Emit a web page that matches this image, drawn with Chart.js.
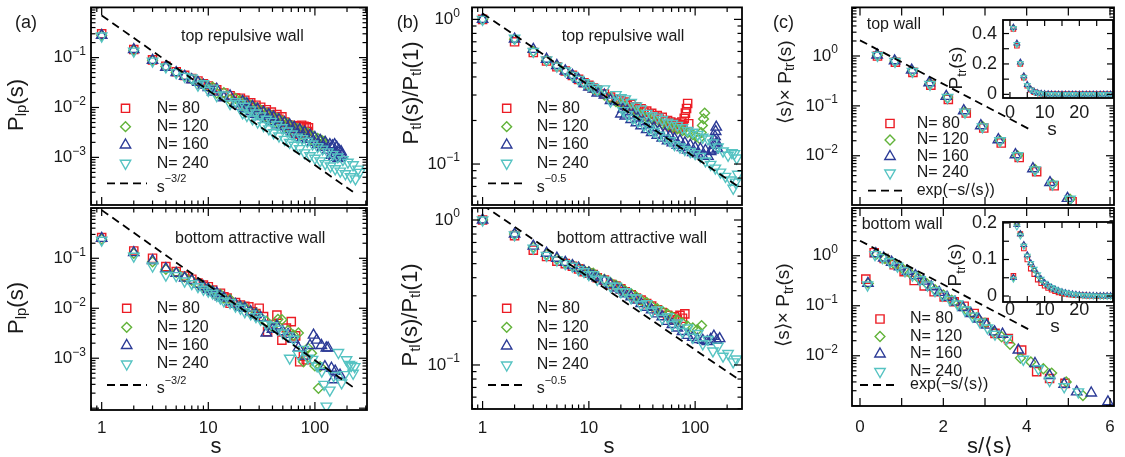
<!DOCTYPE html>
<html>
<head>
<meta charset="utf-8">
<title>Wall statistics</title>
<script src="https://cdn.jsdelivr.net/npm/chart.js@4.4.1/dist/chart.umd.min.js"></script>
<style>
  body { margin: 0; background: #fff; }
  #fig { position: relative; width: 1125px; height: 457px; }
  #fig canvas { position: absolute; left: 0; top: 0; }
</style>
</head>
<body>
<div id="fig">
  <canvas id="aTop" width="1125" height="457"></canvas>
  <canvas id="aBot" width="1125" height="457"></canvas>
  <canvas id="bTop" width="1125" height="457"></canvas>
  <canvas id="bBot" width="1125" height="457"></canvas>
  <canvas id="cTop" width="1125" height="457"></canvas>
  <canvas id="cBot" width="1125" height="457"></canvas>
  <canvas id="insTop" width="1125" height="457"></canvas>
  <canvas id="insBot" width="1125" height="457"></canvas>
</div>
<script>
// ---------- data ----------

// series labels
const seriesLabels = ["N= 80", "N= 120", "N= 160", "N= 240"];

// (a) top repulsive wall: P_lp(s)
const aT_s80 = [1,2,3,4,5,6,7,8,9,10,11,12,14,16,18,20,21,22,23,25,26,28,29,31,33,35,37,39,41,44,46,49,52,55,57,59,61,63,65,67,69,71,73,75,77,79,81,83,85,87];
const aT_p80 = [0.30,0.145,0.090,0.067,0.052,0.044,0.038,0.034,0.030,0.027,0.0246,0.0226,0.0195,0.0172,0.0154,0.0153,0.0121,0.014,0.0111,0.0124,0.0099,0.0111,0.0089,0.0101,0.0079,0.009,0.0071,0.0081,0.0064,0.0072,0.0058,0.0065,0.0051,0.0045,0.0038,0.0044,0.0034,0.0042,0.0031,0.0043,0.0029,0.0041,0.0030,0.0044,0.0031,0.0042,0.0029,0.0041,0.0033,0.0039];
const aT_s120 = [1,2,3,4,5,6,7,8,9,10,11,12,14,16,18,20,21,22,23,25,26,28,29,31,33,35,37,39,41,44,46,49,52,55,58,61,64,68,72,76,80,85,90,95,100,106,112,116,119,122];
const aT_p120 = [0.28,0.14,0.088,0.066,0.051,0.043,0.037,0.033,0.029,0.026,0.0255,0.0194,0.0198,0.0143,0.0152,0.0139,0.0105,0.0126,0.0095,0.011,0.0084,0.0098,0.0075,0.0088,0.0065,0.0077,0.0058,0.0069,0.0052,0.0061,0.0046,0.0054,0.0041,0.0048,0.0036,0.0043,0.0033,0.0038,0.0029,0.0034,0.0026,0.0031,0.0023,0.0027,0.0020,0.0024,0.0018,0.0022,0.0019,0.0021];
const aT_s160 = [1,2,3,4,5,6,7,8,9,10,11,12,14,16,18,20,21,22,23,25,26,28,29,31,33,35,37,39,41,44,46,49,52,55,58,61,64,68,72,76,80,85,90,95,100,106,112,118,125,132,138,142,146,150,153,156,160,164,168,172,176,180];
const aT_p160 = [0.28,0.145,0.088,0.064,0.050,0.042,0.036,0.032,0.028,0.025,0.0203,0.0232,0.0157,0.0171,0.0120,0.0105,0.0132,0.0095,0.0119,0.0083,0.0105,0.0073,0.0093,0.0066,0.0081,0.0058,0.0072,0.0052,0.0065,0.0045,0.0057,0.0041,0.005,0.0036,0.0045,0.0032,0.004,0.0029,0.0036,0.0025,0.0032,0.0023,0.0028,0.002,0.0025,0.0018,0.0022,0.0016,0.002,0.0014,0.0018,0.0011,0.0017,0.0010,0.0018,0.0012,0.0016,0.00095,0.0014,0.0010,0.0013,0.0011];
const aT_s240 = [1,2,3,4,5,6,7,8,9,10,11,12,14,16,18,20,21,22,23,25,26,28,29,31,33,35,37,39,41,44,46,49,52,55,58,61,64,68,72,76,80,85,90,95,100,106,112,118,125,132,140,147,155,164,173,183,193,204,216,228,240,254,262];
const aT_p240 = [0.27,0.135,0.085,0.065,0.050,0.042,0.039,0.028,0.030,0.022,0.0244,0.0173,0.0178,0.0119,0.0131,0.0120,0.00778,0.0106,0.0069,0.00897,0.00589,0.00774,0.00512,0.00679,0.00433,0.00579,0.00373,0.00527,0.00311,0.00451,0.00268,0.00392,0.00229,0.00337,0.00199,0.00294,0.00175,0.00255,0.0015,0.00237,0.00123,0.0021,0.00108,0.00185,0.00096,0.00164,0.00085,0.00146,0.00075,0.00129,0.00067,0.00115,0.00059,0.00102,0.00053,0.0009,0.00047,0.0008,0.00041,0.00071,0.00037,0.00058,0.00050];
const aT_fitS = [1, 230];
const aT_fitP = [0.70, 0.00020];

// (a) bottom attractive wall: P_lp(s)
const aB_s80 = [1,2,3,4,5,6,7,8,9,10,11,12,13,14,15,16,18,20,22,24,26,28,30,33,36,40,44,49,54,60,66,72,78,83];
const aB_p80 = [0.26,0.14,0.10,0.068,0.054,0.044,0.038,0.032,0.029,0.027,0.023,0.019,0.020,0.017,0.016,0.0126,0.013,0.0116,0.011,0.0107,0.0085,0.0078,0.010,0.0068,0.0034,0.0047,0.0073,0.0023,0.0040,0.0054,0.0028,0.00085,0.0011,0.00093];
const aB_s120 = [1,2,3,4,5,6,7,8,9,10,11,12,13,14,16,18,20,22,25,28,31,35,40,45,49,56,63,70,78,86,93,100,108,112];
const aB_p120 = [0.24,0.125,0.085,0.060,0.052,0.042,0.036,0.031,0.027,0.025,0.022,0.018,0.019,0.016,0.015,0.012,0.011,0.0105,0.0085,0.008,0.0065,0.0055,0.0042,0.0060,0.0059,0.0036,0.0029,0.0032,0.00085,0.0016,0.00126,0.0007,0.00025,0.00068];
const aB_s160 = [1,2,3,4,5,6,7,8,9,10,11,12,13,14,16,18,20,22,25,28,31,35,40,44,50,56,63,70,80,90,97,104,115,124,128,133,143,148,155,172];
const aB_p160 = [0.25,0.13,0.09,0.062,0.050,0.040,0.036,0.030,0.027,0.024,0.021,0.020,0.017,0.016,0.0135,0.012,0.0105,0.010,0.0085,0.0075,0.0065,0.0032,0.0038,0.0044,0.0034,0.0030,0.0024,0.0016,0.0011,0.0018,0.0029,0.0023,0.0018,0.00068,0.0016,0.0016,0.00063,0.00037,0.00055,0.00046];
const aB_s240 = [1,2,3,4,5,6,7,8,9,10,11,12,13,14,16,18,20,22,25,28,31,35,40,45,50,56,58,63,70,78,86,95,105,116,122,128,138,150,166,178,190,198,210,220,228,236];
const aB_p240 = [0.23,0.11,0.07,0.046,0.045,0.035,0.031,0.027,0.024,0.022,0.020,0.018,0.016,0.014,0.013,0.011,0.010,0.0085,0.0077,0.0068,0.0060,0.0048,0.0045,0.0038,0.0032,0.0028,0.0010,0.0024,0.0012,0.0015,0.0010,0.00095,0.0007,0.00055,0.0003,0.00011,0.00023,0.00045,0.0013,0.00032,0.00047,0.00093,0.00075,0.00072,0.0005,0.00068];
const aB_fitS = [1, 230];
const aB_fitP = [0.92, 0.00026];

// (b) top repulsive wall: P_tl(s)/P_tl(1)
const bT_s80 = [1,2,3,4,5,6,7,8,9,10,11,12,14,16,18,20,21,22,23,25,26,28,29,31,33,35,37,39,41,44,46,49,52,55,57,59,61,63,65,67,69,71,73,75,77,79,81,83,85,87];
const bT_p80 = [1.0,0.70,0.59,0.515,0.47,0.44,0.41,0.385,0.365,0.35,0.335,0.325,0.305,0.29,0.28,0.275,0.262,0.268,0.253,0.258,0.245,0.249,0.237,0.241,0.228,0.232,0.22,0.224,0.212,0.216,0.205,0.21,0.198,0.2,0.185,0.195,0.18,0.192,0.178,0.19,0.176,0.188,0.18,0.195,0.185,0.207,0.225,0.242,0.262,0.19];
const bT_s120 = [1,2,3,4,5,6,7,8,9,10,11,12,14,16,18,20,22,25,28,31,35,39,44,49,55,61,68,76,85,95,102,110,114,117,120,123];
const bT_p120 = [1.0,0.73,0.60,0.52,0.475,0.44,0.41,0.385,0.365,0.345,0.33,0.32,0.30,0.285,0.27,0.26,0.25,0.24,0.23,0.22,0.21,0.205,0.195,0.19,0.185,0.18,0.175,0.17,0.165,0.16,0.155,0.15,0.165,0.185,0.205,0.225];
const bT_s160 = [1,2,3,4,5,6,7,8,9,10,11,12,14,16,18,20,21,22,23,25,26,28,29,31,33,35,37,39,41,44,46,49,52,55,58,61,64,68,72,76,80,85,90,95,100,106,112,118,125,132,140,147,150,152,154,156,158,160,162];
const bT_p160 = [1.0,0.73,0.62,0.53,0.48,0.44,0.41,0.385,0.36,0.34,0.33,0.31,0.30,0.275,0.27,0.222,0.24,0.215,0.23,0.203,0.218,0.193,0.208,0.184,0.197,0.173,0.187,0.165,0.178,0.158,0.17,0.151,0.163,0.145,0.156,0.14,0.15,0.135,0.145,0.13,0.14,0.125,0.135,0.12,0.13,0.117,0.127,0.114,0.124,0.113,0.122,0.125,0.135,0.145,0.155,0.168,0.18,0.14,0.128];
const bT_s240 = [1,2,3,4,5,6,7,8,9,10,11,12,14,16,18,20,21,22,23,25,26,28,29,31,33,35,37,39,41,44,46,49,52,55,58,61,64,68,72,76,80,85,90,95,100,106,112,118,125,132,140,147,155,164,173,183,193,204,216,222,228,234,240,246,252];
const bT_p240 = [1.0,0.74,0.60,0.525,0.475,0.44,0.41,0.385,0.365,0.35,0.339,0.327,0.331,0.272,0.302,0.288,0.234,0.282,0.219,0.266,0.207,0.252,0.197,0.24,0.185,0.224,0.175,0.216,0.168,0.211,0.158,0.203,0.151,0.195,0.145,0.191,0.136,0.185,0.131,0.178,0.126,0.171,0.122,0.166,0.118,0.16,0.113,0.153,0.105,0.149,0.0995,0.14,0.0937,0.131,0.0879,0.123,0.0822,0.115,0.0776,0.12,0.068,0.118,0.075,0.11,0.085];
const bT_fitS = [1, 253];
const bT_fitP = [1.10, 0.070];

// (b) bottom attractive wall: P_tl(s)/P_tl(1)
const bB_s80 = [1,2,3,4,5,6,7,8,9,10,11,12,14,16,18,20,22,25,28,31,35,39,44,49,55,60,64,68,72,76,80];
const bB_p80 = [1.0,0.78,0.62,0.56,0.52,0.50,0.48,0.46,0.44,0.43,0.42,0.40,0.385,0.36,0.35,0.335,0.32,0.305,0.29,0.28,0.265,0.255,0.24,0.23,0.22,0.205,0.215,0.205,0.22,0.21,0.225];
const bB_s120 = [1,2,3,4,5,6,7,8,9,10,11,12,14,16,18,20,22,25,28,31,35,39,44,49,55,61,68,76,85,95,105,115];
const bB_p120 = [1.0,0.80,0.65,0.58,0.54,0.51,0.49,0.47,0.45,0.44,0.43,0.41,0.39,0.37,0.355,0.34,0.325,0.31,0.295,0.28,0.27,0.255,0.245,0.235,0.225,0.215,0.205,0.195,0.185,0.18,0.175,0.187];
const bB_s160 = [1,2,3,4,5,6,7,8,9,10,11,12,14,16,18,20,22,25,28,31,35,39,44,49,55,61,68,76,85,95,105,118,130,140,150,160,170];
const bB_p160 = [1.0,0.80,0.66,0.59,0.545,0.51,0.485,0.465,0.445,0.43,0.41,0.40,0.38,0.36,0.34,0.33,0.31,0.295,0.28,0.265,0.25,0.24,0.225,0.215,0.20,0.19,0.18,0.17,0.16,0.155,0.15,0.148,0.145,0.15,0.158,0.148,0.152];
const bB_s240 = [1,2,3,4,5,6,7,8,9,10,11,12,14,16,18,20,22,25,28,31,35,39,44,49,55,61,68,76,85,95,106,118,132,147,164,183,204,228,244];
const bB_p240 = [1.0,0.79,0.64,0.57,0.53,0.50,0.48,0.455,0.44,0.42,0.42,0.39,0.385,0.35,0.35,0.32,0.32,0.29,0.29,0.26,0.265,0.235,0.24,0.21,0.215,0.19,0.195,0.17,0.18,0.155,0.165,0.14,0.15,0.125,0.135,0.115,0.12,0.105,0.11];
const bB_fitS = [1, 253];
const bB_fitP = [1.27, 0.080];

// (c) top wall: <s> x P_tr(s) against s/<s>
const cT_x80 = [0.42,0.85,1.27,1.70,2.12,2.55,2.97,3.39,3.82,4.24,4.66,5.09];
const cT_p80 = [1.0,0.75,0.47,0.26,0.135,0.072,0.036,0.018,0.0092,0.0048,0.0025,0.0012];
const cT_x120 = [0.42,0.84,1.26,1.68,2.10,2.52,2.94,3.36,3.78,4.20,4.62,5.04];
const cT_p120 = [1.03,0.79,0.50,0.28,0.145,0.076,0.039,0.020,0.010,0.0053,0.0027,0.00135];
const cT_x160 = [0.41,0.83,1.24,1.66,2.07,2.49,2.90,3.32,3.73,4.15,4.56,4.98];
const cT_p160 = [1.05,0.80,0.52,0.29,0.155,0.080,0.040,0.021,0.0105,0.0055,0.0029,0.0014];
const cT_x240 = [0.42,0.84,1.26,1.68,2.10,2.52,2.94,3.36,3.78,4.20,4.62,5.04];
const cT_p240 = [1.03,0.78,0.49,0.27,0.147,0.075,0.038,0.020,0.010,0.0052,0.0027,0.00134];
const cT_fitX = [0, 4.04];
const cT_fitP = [2.06, 0.035];

// (c) bottom wall
const cB_x80 = [0.14,0.34,0.58,0.82,1.06,1.30,1.54,1.78,2.02,2.26,2.50,2.74,2.98,3.24,3.56,3.88,4.24,4.55,4.92];
const cB_p80 = [0.34,1.15,0.88,0.66,0.48,0.32,0.25,0.19,0.15,0.12,0.098,0.07,0.046,0.028,0.022,0.013,0.0048,0.0035,0.0028];
const cB_x120 = [0.20,0.40,0.60,0.80,1.00,1.20,1.40,1.60,1.80,2.00,2.20,2.40,2.60,2.80,3.00,3.20,3.40,3.60,3.85,4.10,4.40,4.60,4.95,5.35];
const cB_p120 = [0.28,1.08,0.88,0.71,0.57,0.45,0.36,0.28,0.21,0.165,0.13,0.10,0.076,0.058,0.045,0.030,0.024,0.017,0.009,0.0075,0.0055,0.0045,0.0030,0.0016];
const cB_x160 = [0.19,0.38,0.57,0.76,0.95,1.14,1.33,1.52,1.71,1.90,2.09,2.28,2.47,2.66,2.85,3.04,3.23,3.42,3.80,4.20,4.55,4.90,5.20,5.55,5.95];
const cB_p160 = [0.28,1.1,0.9,0.74,0.6,0.49,0.40,0.31,0.24,0.185,0.148,0.118,0.092,0.07,0.054,0.041,0.03,0.027,0.013,0.0070,0.0040,0.0027,0.0019,0.0018,0.0012];
const cB_x240 = [0.18,0.36,0.54,0.72,0.90,1.08,1.26,1.44,1.62,1.80,1.98,2.16,2.34,2.52,2.70,2.88,3.06,3.24,3.52,3.92,4.28,4.55,4.90,5.24];
const cB_p240 = [0.26,1.05,0.92,0.76,0.62,0.50,0.41,0.33,0.26,0.20,0.163,0.133,0.108,0.082,0.062,0.047,0.036,0.027,0.022,0.0085,0.0055,0.0032,0.0024,0.0019];
const cB_fitX = [0, 4.04];
const cB_fitP = [2.0, 0.034];

// insets: P_tr(s) against s
const insS = [1,2,3,4,5,6,7,8,9,10,11,12,13,14,15,16,17,18,19,20,21,22,23,24,25,26,27,28,29];
const iT_p80 = [0.43,0.32,0.20,0.11,0.057,0.030,0.015,0.0076,0.0039,0.0020,0.0010,0.0005,0,0,0,0,0,0,0,0,0,0,0,0,0,0,0,0,0];
const iT_p120 = [0.44,0.33,0.205,0.115,0.060,0.032,0.016,0.008,0.004,0.002,0.001,0.0005,0,0,0,0,0,0,0,0,0,0,0,0,0,0,0,0,0];
const iT_p160 = [0.44,0.335,0.21,0.12,0.063,0.033,0.017,0.009,0.0045,0.0023,0.0012,0.0006,0,0,0,0,0,0,0,0,0,0,0,0,0,0,0,0,0];
const iT_p240 = [0.435,0.33,0.205,0.112,0.060,0.031,0.016,0.0085,0.0042,0.0022,0.0011,0.0006,0,0,0,0,0,0,0,0,0,0,0,0,0,0,0,0,0];
const iB_p80 = [0.055,0.20,0.17,0.13,0.10,0.075,0.060,0.045,0.035,0.028,0.022,0.017,0.013,0.010,0.008,0.006,0.0045,0.0035,0.0025,0.002,0.0015,0.001,0.0008,0.0006,0.0004,0.0003,0.0002,0.0001,0];
const iB_p120 = [0.050,0.20,0.17,0.14,0.11,0.088,0.071,0.056,0.044,0.035,0.027,0.021,0.017,0.013,0.010,0.008,0.006,0.0045,0.0035,0.0025,0.0018,0.0013,0.001,0.0007,0.0005,0.0003,0.0002,0.0001,0];
const iB_p160 = [0.050,0.195,0.17,0.14,0.112,0.090,0.073,0.058,0.046,0.036,0.029,0.023,0.018,0.014,0.011,0.0085,0.0065,0.005,0.0038,0.0028,0.002,0.0015,0.0011,0.0008,0.0006,0.0004,0.0003,0.0002,0.0001];
const iB_p240 = [0.047,0.19,0.165,0.137,0.11,0.09,0.074,0.059,0.047,0.036,0.029,0.024,0.019,0.015,0.012,0.009,0.0074,0.0056,0.0042,0.003,0.002,0.0015,0.001,0.0007,0.0004,0.0003,0.0002,0.0001,0];

// tick labels
const logXTickLabels = [1, 10, 100];
const aYTickExp = [-1, -2, -3];
const bYTickExp = [0, -1];
const cYTickExp = [0, -1, -2];
const cXTickLabels = [0, 2, 4, 6];
const insXTickLabels = [0, 10, 20];
const insTopYTickLabels = [0, 0.2, 0.4];
const insBotYTickLabels = [0, 0.1, 0.2];

// ---------- styling ----------
const W = 1125, H = 457;
const FONT = '"Liberation Sans", Arial, Helvetica, sans-serif';
const INK = "#1a1a1a";
const colors = ["#ec1c24", "#62b33a", "#2b3a96", "#55c3c2"];
const marks = [
    { style: "rect", rot: 0, r: 5.8, order: 4 },
    { style: "rectRot", rot: 0, r: 4.9, order: 3 },
    { style: "triangle", rot: 0, r: 6, order: 2 },
    { style: "triangle", rot: 180, r: 6, order: 1 },
];

const deco = {}; // per-canvas decorations (frame, ticks, texts, legend)

function drawParts(ctx, parts, x, y, align, rot) {
    ctx.save();
    ctx.translate(x, y);
    if (rot) ctx.rotate(-Math.PI / 2);
    ctx.textBaseline = "middle";
    ctx.textAlign = "left";
    let w = 0;
    parts.forEach((p) => {
        ctx.font = p[1] + "px " + FONT;
        w += ctx.measureText(p[0]).width;
    });
    let cx = align === "center" ? -w / 2 : align === "right" ? -w : 0;
    parts.forEach((p) => {
        ctx.font = p[1] + "px " + FONT;
        ctx.fillText(p[0], cx, p[2] || 0);
        cx += ctx.measureText(p[0]).width;
    });
    ctx.restore();
}

function seg(ctx, x1, y1, x2, y2) {
    ctx.beginPath();
    ctx.moveTo(x1, y1);
    ctx.lineTo(x2, y2);
    ctx.stroke();
}

// log axis tick marks: 1..9 x 10^k inside the range
function logTickList(min, max) {
    const out = [];
    for (let e = Math.floor(Math.log10(min)); e <= Math.ceil(Math.log10(max)); e++) {
        for (let k = 1; k < 10; k++) {
            const v = k * Math.pow(10, e);
            if (v >= min * 0.9999 && v <= max * 1.0001) out.push([v, k === 1]);
        }
    }
    return out;
}

function drawMarker(ctx, i, x, y, r) {
    const m = marks[i];
    ctx.beginPath();
    if (m.style === "rect") {
        const h = r * Math.SQRT1_2;
        ctx.rect(x - h, y - h, 2 * h, 2 * h);
    } else if (m.style === "rectRot") {
        ctx.moveTo(x - r, y);
        ctx.lineTo(x, y - r);
        ctx.lineTo(x + r, y);
        ctx.lineTo(x, y + r);
        ctx.closePath();
    } else {
        let a = (m.rot * Math.PI) / 180;
        for (let k = 0; k < 3; k++) {
            const px = x + Math.sin(a) * r, py = y - Math.cos(a) * r;
            if (k) ctx.lineTo(px, py); else ctx.moveTo(px, py);
            a += (2 * Math.PI) / 3;
        }
        ctx.closePath();
    }
    ctx.strokeStyle = colors[i];
    ctx.lineWidth = 1.4;
    ctx.stroke();
}

function supText(e) {
    return e < 0 ? "\u2212" + -e : String(e);
}

const framePlugin = {
    id: "frame",
    beforeDatasetsDraw(chart) {
        const d = deco[chart.canvas.id];
        if (!d.white) return;
        const a = chart.chartArea;
        chart.ctx.save();
        chart.ctx.fillStyle = "#fff";
        chart.ctx.fillRect(a.left, a.top, a.right - a.left, a.bottom - a.top);
        chart.ctx.restore();
    },
    afterDraw(chart) {
        const d = deco[chart.canvas.id];
        const ctx = chart.ctx, a = chart.chartArea;
        const sx = chart.scales.x, sy = chart.scales.y;
        ctx.save();
        ctx.strokeStyle = "#000";
        ctx.lineWidth = 1.2;

        const xt = d.xMajor
            ? d.xMajor.map((v) => [v, true]).concat(d.xMinor.map((v) => [v, false]))
            : logTickList(sx.min, sx.max);
        xt.forEach(([v, major]) => {
            const p = sx.getPixelForValue(v), len = major ? d.tick[0] : d.tick[1];
            seg(ctx, p, a.bottom, p, a.bottom - len);
            seg(ctx, p, a.top, p, a.top + len);
        });
        const yt = d.yMajor
            ? d.yMajor.map((v) => [v, true]).concat(d.yMinor.map((v) => [v, false]))
            : logTickList(sy.min, sy.max);
        yt.forEach(([v, major]) => {
            const p = sy.getPixelForValue(v), len = major ? d.tick[0] : d.tick[1];
            seg(ctx, a.left, p, a.left + len, p);
            seg(ctx, a.right, p, a.right - len, p);
        });

        ctx.lineWidth = 1.8;
        ctx.strokeRect(a.left, a.top, a.right - a.left, a.bottom - a.top);

        ctx.fillStyle = INK;
        if (d.xLabels) {
            d.xLabels.vals.forEach((v) =>
                drawParts(ctx, [[String(v), d.xLabels.size]], sx.getPixelForValue(v), d.xLabels.y, "center"));
        }
        if (d.yLabels) {
            const sz = d.yLabels.size;
            d.yLabels.vals.forEach((v) => {
                if (d.yLabels.pow) {
                    drawParts(ctx, [["10", sz], [supText(v), 12, -6]], d.yLabels.right, sy.getPixelForValue(Math.pow(10, v)), "right");
                } else {
                    drawParts(ctx, [[String(v), sz]], d.yLabels.right, sy.getPixelForValue(v), "right");
                }
            });
        }
        d.texts.forEach((t) => drawParts(ctx, t.parts, t.x, t.y, t.align || "left", t.rot));

        if (d.legend) {
            const L = d.legend;
            L.ys.forEach((y, i) => {
                drawMarker(ctx, i, L.x, y, marks[i].r);
                ctx.fillStyle = INK;
                drawParts(ctx, [[seriesLabels[i], 16]], L.tx, y, "left");
            });
            ctx.strokeStyle = "#000";
            ctx.lineWidth = 1.8;
            ctx.setLineDash([8, 5]);
            seg(ctx, L.dash[0], L.dash[2], L.dash[1], L.dash[2]);
            ctx.setLineDash([]);
            ctx.fillStyle = INK;
            drawParts(ctx, L.fitText, L.tx, L.dash[2], "left");
        }
        ctx.restore();
    },
};

function makeChart(id, area, xScale, yScale, sets, fit, size) {
    const datasets = sets.map((d, i) => ({
        data: d[0].map((v, j) => ({ x: v, y: d[1][j] })),
        pointStyle: marks[i].style,
        pointRotation: marks[i].rot,
        pointRadius: marks[i].r * size,
        pointBorderWidth: size < 1 ? 1.1 : 1.4,
        pointBorderColor: colors[i],
        pointBackgroundColor: "rgba(0,0,0,0)",
        showLine: false,
        order: marks[i].order,
    }));
    if (fit) {
        datasets.push({
            data: fit[0].map((v, j) => ({ x: v, y: fit[1][j] })),
            showLine: true,
            borderColor: "#000",
            borderWidth: 1.8,
            borderDash: [8, 5],
            pointRadius: 0,
            order: 0,
        });
    }
    return new Chart(document.getElementById(id), {
        type: "scatter",
        data: { datasets },
        options: {
            responsive: false,
            animation: false,
            devicePixelRatio: 1,
            events: [],
            layout: {
                padding: { left: area[0], top: area[1], right: W - area[0] - area[2], bottom: H - area[1] - area[3] },
            },
            scales: {
                x: Object.assign({ display: false, bounds: "data" }, xScale),
                y: Object.assign({ display: false, bounds: "data" }, yScale),
            },
            plugins: { legend: { display: false }, tooltip: { enabled: false } },
        },
        plugins: [framePlugin],
    });
}

// ---------- decorations ----------
const sPow = (e) => [["s", 16, 4], [e, 11, -4]];

deco.aTop = {
    tick: [8, 4.5],
    yLabels: { vals: aYTickExp, pow: true, right: 86, size: 17 },
    texts: [
        { parts: [["(a)", 18]], x: 15, y: 23 },
        { parts: [["top repulsive wall", 16]], x: 181, y: 37 },
        { parts: [["P", 22], ["lp", 15, 5], ["(s)", 22]], x: 17, y: 105, align: "center", rot: true },
    ],
    legend: { x: 125.5, ys: [108.3, 126.7, 145, 163.3], tx: 156.7, dash: [107, 147, 183.3], fitText: sPow("\u22123/2") },
};
deco.aBot = {
    tick: [8, 4.5],
    xLabels: { vals: logXTickLabels, y: 428, size: 17 },
    yLabels: { vals: aYTickExp, pow: true, right: 86, size: 17 },
    texts: [
        { parts: [["bottom attractive wall", 16]], x: 175, y: 238.3 },
        { parts: [["P", 22], ["lp", 15, 5], ["(s)", 22]], x: 17, y: 308, align: "center", rot: true },
        { parts: [["s", 22]], x: 216, y: 447, align: "center" },
    ],
    legend: { x: 126.7, ys: [308.3, 327.3, 345.5, 364], tx: 156.7, dash: [107, 147, 385], fitText: sPow("\u22123/2") },
};
deco.bTop = {
    tick: [8, 4.5],
    yLabels: { vals: bYTickExp, pow: true, right: 460, size: 17 },
    texts: [
        { parts: [["(b)", 18]], x: 396.7, y: 23 },
        { parts: [["top repulsive wall", 16]], x: 561.7, y: 36.7 },
        { parts: [["P", 22], ["tl", 15, 5], ["(s)/P", 22], ["tl", 15, 5], ["(1)", 22]], x: 411.7, y: 93, align: "center", rot: true },
    ],
    legend: { x: 506.7, ys: [108.3, 126.7, 145, 163.3], tx: 536.7, dash: [488, 527, 183.3], fitText: sPow("\u22120.5") },
};
deco.bBot = {
    tick: [8, 4.5],
    xLabels: { vals: logXTickLabels, y: 428, size: 17 },
    yLabels: { vals: bYTickExp, pow: true, right: 460, size: 17 },
    texts: [
        { parts: [["bottom attractive wall", 16]], x: 556.7, y: 238.3 },
        { parts: [["P", 22], ["tl", 15, 5], ["(s)/P", 22], ["tl", 15, 5], ["(1)", 22]], x: 411, y: 315, align: "center", rot: true },
        { parts: [["s", 22]], x: 609, y: 447, align: "center" },
    ],
    legend: { x: 506.7, ys: [308.3, 327.3, 346, 365], tx: 536.7, dash: [488, 527, 385], fitText: sPow("\u22120.5") },
};
deco.cTop = {
    tick: [8, 4.5],
    xMajor: [0, 1, 2, 3, 4, 5, 6], xMinor: [],
    yLabels: { vals: cYTickExp, pow: true, right: 838, size: 17 },
    texts: [
        { parts: [["(c)", 18]], x: 773, y: 23 },
        { parts: [["top wall", 16]], x: 866.7, y: 25 },
        { parts: [["\u27E8s\u27E9\u00D7 P", 19], ["tr", 14, 5], ["(s)", 19]], x: 785.5, y: 82, align: "center", rot: true },
    ],
    legend: { x: 890, ys: [123.5, 140, 156.5, 173], tx: 916.7, dash: [868, 907, 190.7], fitText: [["exp(\u2212s/\u27E8s\u27E9)", 16]] },
};
deco.cBot = {
    tick: [8, 4.5],
    xMajor: [0, 1, 2, 3, 4, 5, 6], xMinor: [],
    xLabels: { vals: cXTickLabels, y: 427, size: 17 },
    yLabels: { vals: cYTickExp, pow: true, right: 838, size: 17 },
    texts: [
        { parts: [["bottom wall", 16]], x: 861.7, y: 225 },
        { parts: [["\u27E8s\u27E9\u00D7 P", 19], ["tr", 14, 5], ["(s)", 19]], x: 784, y: 305, align: "center", rot: true },
        { parts: [["s/\u27E8s\u27E9", 22]], x: 990, y: 447, align: "center" },
    ],
    legend: { x: 880, ys: [319, 336.5, 354, 371.5], tx: 910, dash: [860, 897, 385], fitText: [["exp(\u2212s/\u27E8s\u27E9)", 16]] },
};
deco.insTop = {
    white: true,
    tick: [6, 6],
    xMajor: [0, 5, 10, 15, 20, 25], xMinor: [],
    yMajor: [0, 0.1, 0.2, 0.3, 0.4], yMinor: [],
    xLabels: { vals: insXTickLabels, y: 113.3, size: 18 },
    yLabels: { vals: insTopYTickLabels, pow: false, right: 997, size: 18 },
    texts: [
        { parts: [["P", 19], ["tr", 13, 5], ["(s)", 19]], x: 957, y: 68, align: "center", rot: true },
        { parts: [["s", 19]], x: 1052, y: 130, align: "center" },
    ],
};
deco.insBot = {
    white: true,
    tick: [6, 6],
    xMajor: [0, 5, 10, 15, 20, 25], xMinor: [],
    yMajor: [0, 0.05, 0.1, 0.15, 0.2], yMinor: [],
    xLabels: { vals: insXTickLabels, y: 310, size: 18 },
    yLabels: { vals: insBotYTickLabels, pow: false, right: 997, size: 18 },
    texts: [
        { parts: [["P", 19], ["tr", 13, 5], ["(s)", 19]], x: 956, y: 265, align: "center", rot: true },
        { parts: [["s", 19]], x: 1055, y: 326.7, align: "center" },
    ],
};

// ---------- charts ----------
const logX = (min, max) => ({ type: "logarithmic", min, max });
const linX = (min, max) => ({ type: "linear", min, max });

makeChart("aTop", [91, 7, 276, 198], logX(0.794, 308), logX(1.11e-4, 1.014),
    [[aT_s80, aT_p80], [aT_s120, aT_p120], [aT_s160, aT_p160], [aT_s240, aT_p240]], [aT_fitS, aT_fitP], 1);
makeChart("aBot", [91, 208, 276, 202], logX(0.794, 308), logX(9.2e-5, 1.014),
    [[aB_s80, aB_p80], [aB_s120, aB_p120], [aB_s160, aB_p160], [aB_s240, aB_p240]], [aB_fitS, aB_fitP], 1);
makeChart("bTop", [472, 7, 270, 198], logX(0.795, 276), logX(0.0521, 1.21),
    [[bT_s80, bT_p80], [bT_s120, bT_p120], [bT_s160, bT_p160], [bT_s240, bT_p240]], [bT_fitS, bT_fitP], 1);
makeChart("bBot", [472, 208, 270, 201], logX(0.795, 276), logX(0.0497, 1.21),
    [[bB_s80, bB_p80], [bB_s120, bB_p120], [bB_s160, bB_p160], [bB_s240, bB_p240]], [bB_fitS, bB_fitP], 1);
makeChart("cTop", [852, 7, 262, 198], linX(-0.192, 6.096), logX(1.03e-3, 9.42),
    [[cT_x80, cT_p80], [cT_x120, cT_p120], [cT_x160, cT_p160], [cT_x240, cT_p240]], [cT_fitX, cT_fitP], 1);
makeChart("cBot", [852, 208, 262, 198], linX(-0.192, 6.096), logX(9.9e-4, 9.0),
    [[cB_x80, cB_p80], [cB_x120, cB_p120], [cB_x160, cB_p160], [cB_x240, cB_p240]], [cB_fitX, cB_fitP], 1);
makeChart("insTop", [1003, 20, 110, 78], linX(-2.0, 29.7), linX(-0.024, 0.489),
    [[insS, iT_p80], [insS, iT_p120], [insS, iT_p160], [insS, iT_p240]], null, 0.55);
makeChart("insBot", [1003, 222, 110, 80], linX(-2.0, 29.7), linX(-0.0164, 0.2027),
    [[insS, iB_p80], [insS, iB_p120], [insS, iB_p160], [insS, iB_p240]], null, 0.55);
</script>
</body>
</html>
